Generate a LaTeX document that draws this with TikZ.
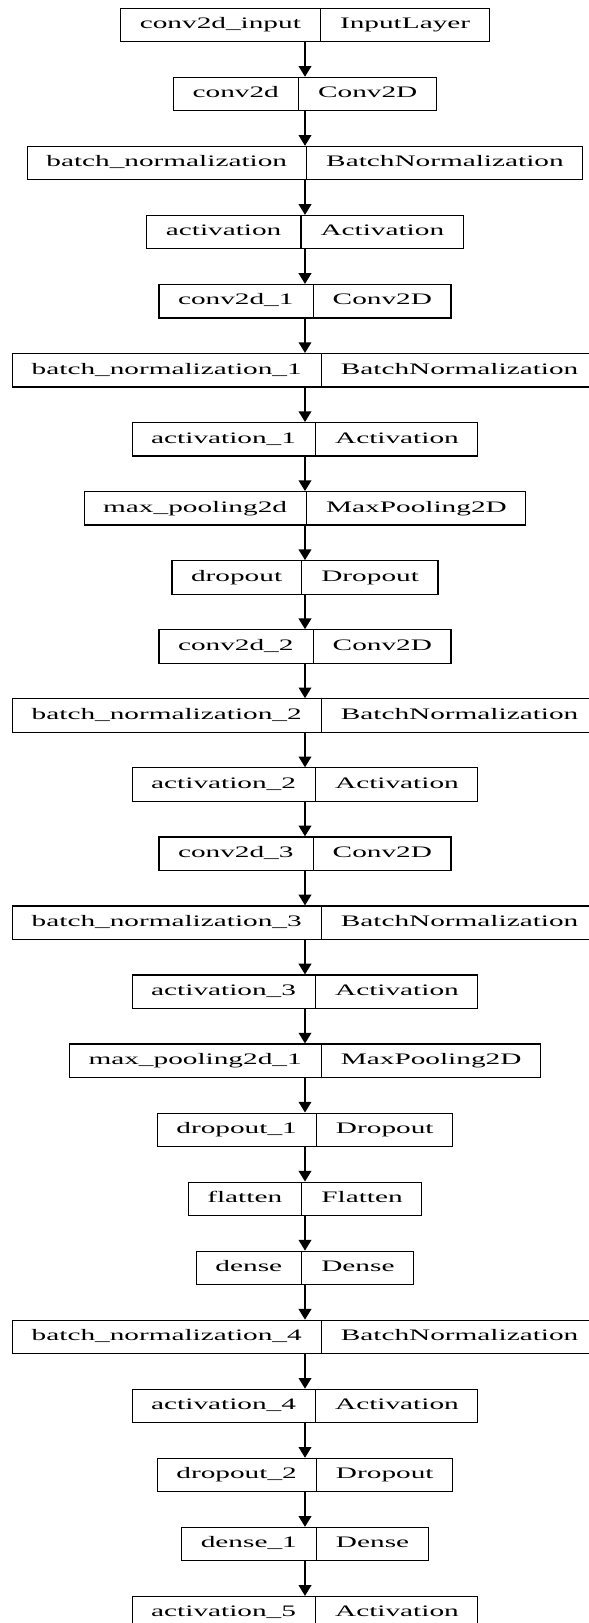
\documentclass[tikz,border=0pt]{standalone}
\usepackage{fontspec}
\setmainfont{Liberation Serif}[FakeStretch=1.83]
\usetikzlibrary{shapes.multipart,arrows.meta}

\newcommand{\rec}[2]{\rule[-2.5pt]{0pt}{12.5pt}\smash{#1}\nodepart{two}\rule[-2.5pt]{0pt}{12.5pt}\smash{#2}}

\tikzset{
	layer/.style={rectangle split, rectangle split horizontal, rectangle split parts=2, draw, line width=1.2pt,
		inner xsep=19pt, inner ysep=9.2pt, minimum height=33.4pt, font=\fontsize{16pt}{19pt}\selectfont},
	flow/.style={-{Triangle[width=12.7pt,length=10.7pt]}, line width=1.5pt}
}

\begin{document}
\begin{tikzpicture}[x=1pt, y=1pt]
		\useasboundingbox (0,0) rectangle (589,-1623);
		
		\node[layer] (input) at (305,-25) {\rec{conv2d\_input}{InputLayer}};
		\node[layer] (conv) at (305,-94.05) {\rec{conv2d}{Conv2D}};
		\node[layer] (bn) at (305,-163.1) {\rec{batch\_normalization}{BatchNormalization}};
		\node[layer] (act) at (305,-232.15) {\rec{activation}{Activation}};
		\node[layer] (conv1) at (305,-301.2) {\rec{conv2d\_1}{Conv2D}};
		\node[layer] (bn1) at (305,-370.25) {\rec{batch\_normalization\_1}{BatchNormalization}};
		\node[layer] (act1) at (305,-439.3) {\rec{activation\_1}{Activation}};
		\node[layer] (pool) at (305,-508.35) {\rec{max\_pooling2d}{MaxPooling2D}};
		\node[layer] (drop) at (305,-577.4) {\rec{dropout}{Dropout}};
		\node[layer] (conv2) at (305,-646.45) {\rec{conv2d\_2}{Conv2D}};
		\node[layer] (bn2) at (305,-715.5) {\rec{batch\_normalization\_2}{BatchNormalization}};
		\node[layer] (act2) at (305,-784.55) {\rec{activation\_2}{Activation}};
		\node[layer] (conv3) at (305,-853.6) {\rec{conv2d\_3}{Conv2D}};
		\node[layer] (bn3) at (305,-922.65) {\rec{batch\_normalization\_3}{BatchNormalization}};
		\node[layer] (act3) at (305,-991.7) {\rec{activation\_3}{Activation}};
		\node[layer] (pool1) at (305,-1060.75) {\rec{max\_pooling2d\_1}{MaxPooling2D}};
		\node[layer] (drop1) at (305,-1129.8) {\rec{dropout\_1}{Dropout}};
		\node[layer] (flat) at (305,-1198.85) {\rec{flatten}{Flatten}};
		\node[layer] (dense) at (305,-1267.9) {\rec{dense}{Dense}};
		\node[layer] (bn4) at (305,-1336.95) {\rec{batch\_normalization\_4}{BatchNormalization}};
		\node[layer] (act4) at (305,-1406) {\rec{activation\_4}{Activation}};
		\node[layer] (drop2) at (305,-1475.05) {\rec{dropout\_2}{Dropout}};
		\node[layer] (dense1) at (305,-1544.1) {\rec{dense\_1}{Dense}};
		\node[layer] (act5) at (305,-1613.15) {\rec{activation\_5}{Activation}};
		
		\draw[flow] (input) -- (conv);
		\draw[flow] (conv) -- (bn);
		\draw[flow] (bn) -- (act);
		\draw[flow] (act) -- (conv1);
		\draw[flow] (conv1) -- (bn1);
		\draw[flow] (bn1) -- (act1);
		\draw[flow] (act1) -- (pool);
		\draw[flow] (pool) -- (drop);
		\draw[flow] (drop) -- (conv2);
		\draw[flow] (conv2) -- (bn2);
		\draw[flow] (bn2) -- (act2);
		\draw[flow] (act2) -- (conv3);
		\draw[flow] (conv3) -- (bn3);
		\draw[flow] (bn3) -- (act3);
		\draw[flow] (act3) -- (pool1);
		\draw[flow] (pool1) -- (drop1);
		\draw[flow] (drop1) -- (flat);
		\draw[flow] (flat) -- (dense);
		\draw[flow] (dense) -- (bn4);
		\draw[flow] (bn4) -- (act4);
		\draw[flow] (act4) -- (drop2);
		\draw[flow] (drop2) -- (dense1);
		\draw[flow] (dense1) -- (act5);
	\end{tikzpicture}
\end{document}
